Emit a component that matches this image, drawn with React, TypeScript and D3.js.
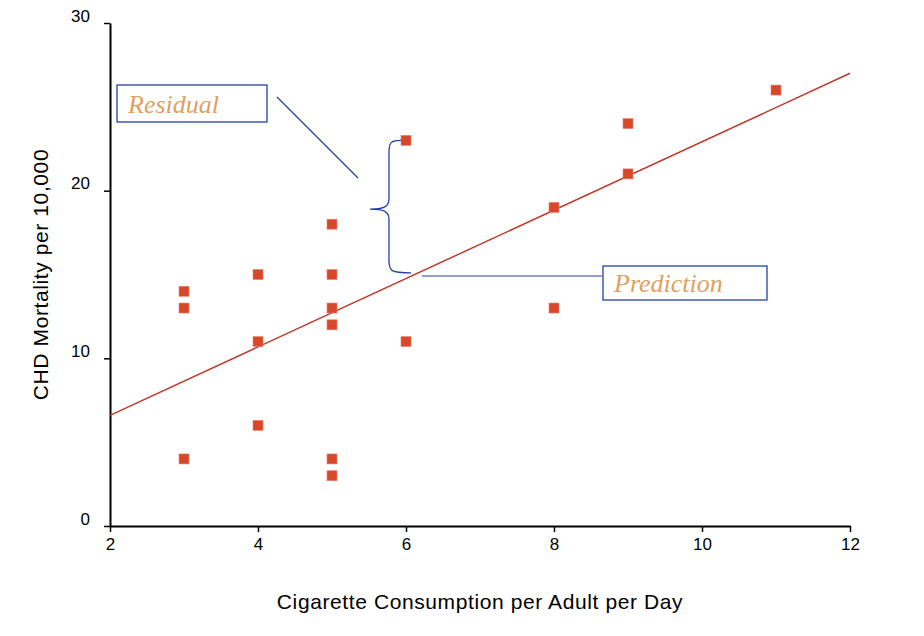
import { useEffect, useRef } from 'react'
import * as d3 from 'd3'

const cigarettes = [3, 3, 3, 4, 4, 4, 5, 5, 5, 5, 5, 5, 6, 6, 8, 8, 9, 9, 11]
const mortality = [14, 13, 4, 15, 11, 6, 18, 15, 13, 12, 4, 3, 23, 11, 19, 13, 24, 21, 26]
const fitLine = [
  { x: 2, y: 6.6 },
  { x: 12, y: 27.0 },
]
const xTicks = [2, 4, 6, 8, 10, 12]
const yTicks = [0, 10, 20, 30]

export default function App() {
  const ref = useRef<SVGSVGElement | null>(null)
  useEffect(() => {
    const width = 924
    const height = 636
    const svg = d3.select(ref.current).attr('width', width).attr('height', height)
    svg.selectAll('*').remove()
    svg.append('rect').attr('width', width).attr('height', height).attr('fill', '#fff')

    const x = d3.scaleLinear().domain([2, 12]).range([110, 850])
    const y = d3.scaleLinear().domain([0, 30]).range([526, 23])
    const font = '"Liberation Sans", Arial, sans-serif'

    const xAxis = svg.append('g').attr('transform', `translate(0,${y(0)})`)
      .call(d3.axisBottom(x).tickValues(xTicks).tickSize(6).tickSizeOuter(0).tickPadding(6) as any)
    const yAxis = svg.append('g').attr('transform', `translate(${x(2)},0)`)
      .call(d3.axisLeft(y).tickValues(yTicks).tickSize(6).tickSizeOuter(0).tickPadding(14) as any)
    for (const a of [xAxis, yAxis]) {
      a.attr('font-size', 17).attr('font-family', font)
      a.selectAll('.domain').attr('stroke', '#000').attr('stroke-width', 2)
      a.selectAll('.tick line').attr('stroke', '#000').attr('stroke-width', 1.5)
      a.selectAll('.tick text').attr('fill', '#000')
    }
    yAxis.selectAll('.tick text').attr('dy', '-0.1em')

    svg.append('text').attr('x', (x(2) + x(12)) / 2).attr('y', 609).attr('text-anchor', 'middle')
      .attr('font-family', font).attr('font-size', 21).attr('letter-spacing', 0.6).text('Cigarette Consumption per Adult per Day')
    svg.append('text').attr('transform', `translate(48,${(y(0) + y(30)) / 2}) rotate(-90)`).attr('text-anchor', 'middle')
      .attr('font-family', font).attr('font-size', 21).attr('letter-spacing', 0.6).text('CHD Mortality per 10,000')

    svg.append('line')
      .attr('x1', x(fitLine[0].x)).attr('y1', y(fitLine[0].y))
      .attr('x2', x(fitLine[1].x)).attr('y2', y(fitLine[1].y))
      .attr('stroke', '#c0392b').attr('stroke-width', 1.5)

    svg.selectAll(null).data(cigarettes).enter().append('rect')
      .attr('x', (d) => x(d) - 5)
      .attr('y', (_d, i) => y(mortality[i]) - 5)
      .attr('width', 10).attr('height', 10)
      .attr('fill', '#d9472b').attr('stroke', '#e8836e').attr('stroke-width', 0.6)

    // brace from point (6,23) down to the fit line
    const bx = x(5.77)
    const top = y(23)
    const bot = y(15.1)
    const mid = y(18.9)
    const blue = '#2340a8'
    svg.append('path')
      .attr('d', `M${x(6) - 5},${top} C${bx + 2},${top} ${bx},${top + 2} ${bx},${top + 12} L${bx},${mid - 10} C${bx},${mid - 2} ${bx - 6},${mid} ${bx - 19},${mid}`
        + ` C${bx - 6},${mid} ${bx},${mid + 2} ${bx},${mid + 10} L${bx},${bot - 12} C${bx},${bot - 2} ${bx + 2},${bot} ${bx + 22},${bot}`)
      .attr('fill', 'none').attr('stroke', blue).attr('stroke-width', 1.3)

    svg.append('line').attr('x1', 277).attr('y1', 97).attr('x2', 358).attr('y2', 178).attr('stroke', blue).attr('stroke-width', 1.2)
    svg.append('line').attr('x1', 422).attr('y1', 276).attr('x2', 602).attr('y2', 276).attr('stroke', blue).attr('stroke-width', 1.2)

    const boxes = [
      { label: 'Residual', x: 117, y: 85, w: 150, h: 37 },
      { label: 'Prediction', x: 603, y: 266, w: 164, h: 34 },
    ]
    for (const b of boxes) {
      svg.append('rect').attr('x', b.x).attr('y', b.y).attr('width', b.w).attr('height', b.h)
        .attr('fill', '#fff').attr('stroke', blue).attr('stroke-width', 1.3)
      svg.append('text').attr('x', b.x + 11).attr('y', b.y + b.h / 2 + 9)
        .attr('font-family', '"Liberation Serif", "Times New Roman", serif').attr('font-style', 'italic')
        .attr('font-size', 26).attr('fill', '#e0a060').text(b.label)
    }
  }, [])
  return <svg ref={ref} style={{ display: 'block', margin: -8 }} />
}
